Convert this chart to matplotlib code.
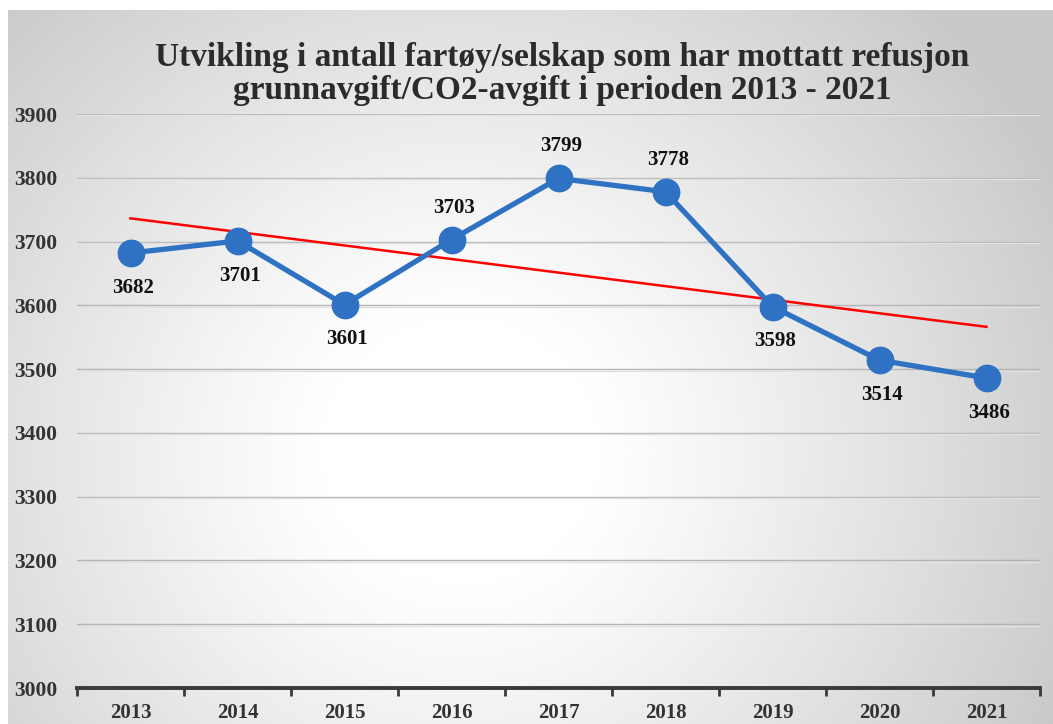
import numpy as np
import matplotlib
matplotlib.use("Agg")
import matplotlib.pyplot as plt

years = ["2013", "2014", "2015", "2016", "2017", "2018", "2019", "2020", "2021"]
values = [3682, 3701, 3601, 3703, 3799, 3778, 3598, 3514, 3486]
label_above = [False, False, False, True, True, True, False, False, False]
yticks = [3000, 3100, 3200, 3300, 3400, 3500, 3600, 3700, 3800, 3900]
title = "Utvikling i antall fartøy/selskap som har mottatt refusjon\ngrunnavgift/CO2-avgift i perioden 2013 - 2021"

W, H = 1053, 724
fig = plt.figure(figsize=(W / 100, H / 100), dpi=100)
fig.patch.set_facecolor("white")

# radial gradient background
bx0, by0 = 8, 10
bw, bh = W - bx0, H - by0
bg = fig.add_axes([bx0 / W, 0, bw / W, bh / H])
bg.set_axis_off()
yy, xx = np.mgrid[0:bh:2, 0:bw:2].astype(float)
px = xx + bx0
py = yy + by0
d = np.sqrt((px - 460) ** 2 + ((py - 450) * 1.05) ** 2)
t = np.clip((d - 140) / 520, 0, 1)
v = 1.0 - 0.21 * t ** 1.1
img = np.dstack([v, v, v])
bg.imshow(img, aspect="auto", extent=[0, 1, 0, 1], origin="upper", interpolation="bilinear")
bg.set_xlim(0, 1)
bg.set_ylim(0, 1)

serif = ["Liberation Serif", "DejaVu Serif"]

ax = fig.add_axes([77 / W, 1 - 688 / H, (1040 - 77) / W, (688 - 114) / H])
ax.patch.set_alpha(0)
x = np.arange(len(years))
ax.set_xlim(-0.5, len(years) - 0.5)
ax.set_ylim(3000, 3900)

for tk in yticks[1:]:
    ax.axhline(tk, color="#b4b4b4", lw=1.0, zorder=1)
    ax.axhline(tk - 2.2, color="#e2e2e2", lw=1.0, zorder=1)

# trend line
coef = np.polyfit(x, values, 1)
ax.plot(x, np.polyval(coef, x), color="#ff0000", lw=1.8, zorder=3)

ax.plot(x, values, color="#2f72c4", lw=3.8, marker="o", markersize=19,
        markerfacecolor="#2f72c4", markeredgecolor="#2f72c4", zorder=4)

for xi, v_, ab in zip(x, values, label_above):
    ax.annotate(str(v_), (xi, v_), xytext=(2, 23 if ab else -25),
                textcoords="offset points", ha="center", va="center",
                fontsize=15, fontweight="bold", family=serif, color="#111111", zorder=5)

for s in ["top", "right", "left"]:
    ax.spines[s].set_visible(False)
ax.spines["bottom"].set_color("#3a3a3a")
ax.spines["bottom"].set_linewidth(2.8)

ax.set_xticks(np.arange(-0.5, len(years), 1.0))
ax.set_xticklabels([])
ax.set_xticks(x, minor=True)
ax.set_xticklabels(years, minor=True)
ax.tick_params(axis="x", which="major", length=6, width=2, color="#3a3a3a", direction="out")
ax.tick_params(axis="x", which="minor", length=0, pad=11)
for lab in ax.get_xticklabels(minor=True):
    lab.set_fontfamily(serif)
    lab.set_fontweight("bold")
    lab.set_fontsize(15)
    lab.set_color("#333333")

ax.set_yticks(yticks)
ax.set_yticklabels([str(tk) for tk in yticks])
ax.tick_params(axis="y", length=0, pad=14)
for lab in ax.get_yticklabels():
    lab.set_fontfamily(serif)
    lab.set_fontweight("bold")
    lab.set_fontsize(15.5)
    lab.set_color("#333333")

fig.text(562 / W, 1 - 74 / H, title, ha="center", va="center", fontsize=24,
         fontweight="bold", family=serif, color="#2b2b2b", linespacing=1.12)

fig.savefig("out.png", dpi=100)
